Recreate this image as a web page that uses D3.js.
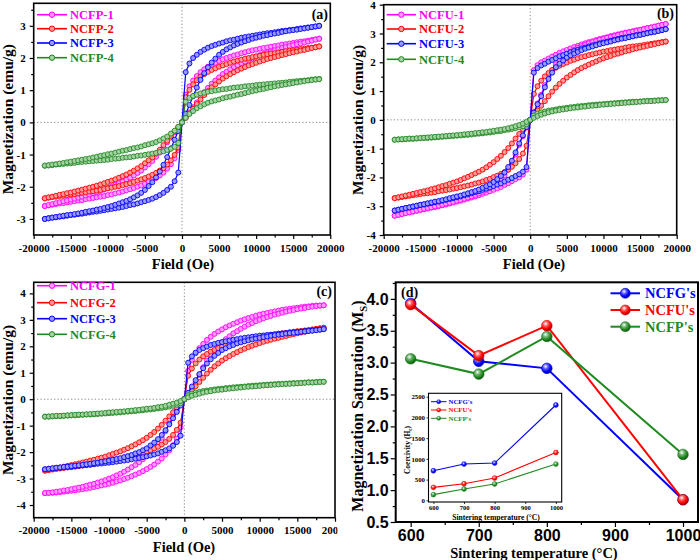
<!DOCTYPE html>
<html><head><meta charset="utf-8">
<script src="https://cdn.jsdelivr.net/npm/d3@7"></script>
<style>body{margin:0;background:#fff}svg{display:block}</style>
</head><body><svg id="c" width="700" height="560"></svg>
<script>
// ---------------- DATA ----------------
const fieldOe = [-18500,-18000,-17500,-17000,-16500,-16000,-15500,-15000,-14500,-14000,-13500,-13000,-12500,-12000,-11500,-11000,-10500,-10000,-9500,-9000,-8500,-8000,-7500,-7000,-6500,-6000,-5500,-5000,-4500,-4000,-3500,-3000,-2500,-2000,-1500,-1000,-500,0,500,1000,1500,2000,2500,3000,3500,4000,4500,5000,5500,6000,6500,7000,7500,8000,8500,9000,9500,10000,10500,11000,11500,12000,12500,13000,13500,14000,14500,15000,15500,16000,16500,17000,17500,18000,18500];

// Panel (a) NCFP loops: branch A (steep) and branch B (inner)
const ncfp1A = [-2.60,-2.58,-2.56,-2.54,-2.52,-2.51,-2.49,-2.47,-2.45,-2.43,-2.42,-2.39,-2.37,-2.35,-2.33,-2.31,-2.29,-2.26,-2.24,-2.21,-2.18,-2.15,-2.11,-2.08,-2.04,-2.00,-1.96,-1.91,-1.85,-1.79,-1.73,-1.65,-1.56,-1.44,-1.30,-1.12,-0.86,0,0.86,1.12,1.30,1.44,1.56,1.65,1.73,1.79,1.85,1.91,1.96,2.00,2.04,2.08,2.11,2.15,2.18,2.21,2.24,2.26,2.29,2.31,2.33,2.35,2.37,2.39,2.42,2.43,2.45,2.47,2.49,2.51,2.52,2.54,2.56,2.58,2.60];
const ncfp1B = [-2.60,-2.57,-2.54,-2.51,-2.48,-2.45,-2.43,-2.40,-2.37,-2.34,-2.31,-2.27,-2.24,-2.20,-2.17,-2.13,-2.09,-2.04,-1.99,-1.94,-1.89,-1.84,-1.78,-1.72,-1.65,-1.57,-1.50,-1.40,-1.30,-1.20,-1.07,-0.94,-0.78,-0.62,-0.47,-0.31,-0.16,0,0.16,0.31,0.47,0.62,0.78,0.94,1.07,1.20,1.30,1.40,1.50,1.57,1.65,1.72,1.78,1.84,1.89,1.94,1.99,2.04,2.09,2.13,2.17,2.20,2.24,2.27,2.31,2.34,2.37,2.40,2.43,2.45,2.48,2.51,2.54,2.57,2.60];
const ncfp2A = [-2.36,-2.34,-2.32,-2.31,-2.29,-2.28,-2.26,-2.24,-2.23,-2.21,-2.19,-2.17,-2.15,-2.14,-2.12,-2.10,-2.07,-2.05,-2.03,-2.00,-1.98,-1.95,-1.92,-1.89,-1.85,-1.81,-1.77,-1.73,-1.68,-1.63,-1.57,-1.50,-1.42,-1.31,-1.18,-1.01,-0.78,0,0.78,1.01,1.18,1.31,1.42,1.50,1.57,1.63,1.68,1.73,1.77,1.81,1.85,1.89,1.92,1.95,1.98,2.00,2.03,2.05,2.07,2.10,2.12,2.14,2.15,2.17,2.19,2.21,2.23,2.24,2.26,2.28,2.29,2.31,2.32,2.34,2.36];
const ncfp2B = [-2.36,-2.33,-2.31,-2.28,-2.25,-2.23,-2.20,-2.18,-2.15,-2.12,-2.09,-2.06,-2.03,-2.00,-1.97,-1.93,-1.89,-1.85,-1.81,-1.77,-1.72,-1.67,-1.62,-1.56,-1.50,-1.43,-1.36,-1.27,-1.18,-1.09,-0.97,-0.85,-0.71,-0.57,-0.42,-0.28,-0.14,0,0.14,0.28,0.42,0.57,0.71,0.85,0.97,1.09,1.18,1.27,1.36,1.43,1.50,1.56,1.62,1.67,1.72,1.77,1.81,1.85,1.89,1.93,1.97,2.00,2.03,2.06,2.09,2.12,2.15,2.18,2.20,2.23,2.25,2.28,2.31,2.33,2.36];
const ncfp3A = [-3.00,-2.98,-2.96,-2.95,-2.93,-2.92,-2.90,-2.88,-2.87,-2.85,-2.84,-2.82,-2.80,-2.78,-2.77,-2.75,-2.73,-2.71,-2.69,-2.67,-2.65,-2.63,-2.60,-2.57,-2.55,-2.52,-2.48,-2.45,-2.41,-2.37,-2.32,-2.26,-2.19,-2.10,-2.00,-1.83,-1.56,0,1.56,1.83,2.00,2.10,2.19,2.26,2.32,2.37,2.41,2.45,2.48,2.52,2.55,2.57,2.60,2.63,2.65,2.67,2.69,2.71,2.73,2.75,2.77,2.78,2.80,2.82,2.84,2.85,2.87,2.88,2.90,2.92,2.93,2.95,2.96,2.98,3.00];
const ncfp3B = [-3.00,-2.98,-2.96,-2.94,-2.92,-2.90,-2.88,-2.87,-2.85,-2.83,-2.81,-2.78,-2.76,-2.74,-2.71,-2.69,-2.66,-2.63,-2.60,-2.56,-2.52,-2.48,-2.44,-2.39,-2.33,-2.27,-2.19,-2.10,-1.98,-1.86,-1.71,-1.53,-1.32,-1.08,-0.81,-0.54,-0.27,0,0.27,0.54,0.81,1.08,1.32,1.53,1.71,1.86,1.98,2.10,2.19,2.27,2.33,2.39,2.44,2.48,2.52,2.56,2.60,2.63,2.66,2.69,2.71,2.74,2.76,2.78,2.81,2.83,2.85,2.87,2.88,2.90,2.92,2.94,2.96,2.98,3.00];
const ncfp4A = [-1.35,-1.34,-1.33,-1.31,-1.30,-1.29,-1.28,-1.27,-1.26,-1.24,-1.23,-1.22,-1.21,-1.20,-1.19,-1.18,-1.17,-1.16,-1.14,-1.13,-1.12,-1.10,-1.09,-1.08,-1.06,-1.04,-1.03,-1.01,-0.99,-0.97,-0.95,-0.92,-0.90,-0.86,-0.82,-0.76,-0.64,0,0.64,0.76,0.82,0.86,0.90,0.92,0.95,0.97,0.99,1.01,1.03,1.04,1.06,1.08,1.09,1.10,1.12,1.13,1.14,1.16,1.17,1.18,1.19,1.20,1.21,1.22,1.23,1.24,1.26,1.27,1.28,1.29,1.30,1.31,1.33,1.34,1.35];
const ncfp4B = [-1.34,-1.33,-1.31,-1.30,-1.28,-1.26,-1.24,-1.22,-1.20,-1.18,-1.16,-1.14,-1.12,-1.09,-1.07,-1.04,-1.02,-0.99,-0.97,-0.94,-0.91,-0.88,-0.86,-0.83,-0.80,-0.78,-0.75,-0.71,-0.68,-0.65,-0.61,-0.56,-0.50,-0.44,-0.35,-0.26,-0.14,0,0.14,0.26,0.35,0.44,0.50,0.56,0.61,0.65,0.68,0.71,0.75,0.78,0.80,0.83,0.86,0.88,0.91,0.94,0.97,0.99,1.02,1.04,1.07,1.09,1.12,1.14,1.16,1.18,1.20,1.22,1.24,1.26,1.28,1.30,1.31,1.33,1.34];

// Panel (b) NCFU loops
const ncfu1A = [-3.33,-3.30,-3.27,-3.24,-3.21,-3.19,-3.16,-3.13,-3.11,-3.08,-3.05,-3.03,-3.00,-2.97,-2.94,-2.91,-2.87,-2.84,-2.81,-2.77,-2.73,-2.70,-2.66,-2.62,-2.57,-2.53,-2.48,-2.43,-2.38,-2.33,-2.26,-2.20,-2.13,-2.06,-2.00,-1.90,-1.73,0,1.73,1.90,2.00,2.06,2.13,2.20,2.26,2.33,2.38,2.43,2.48,2.53,2.57,2.62,2.66,2.70,2.73,2.77,2.81,2.84,2.87,2.91,2.94,2.97,3.00,3.03,3.05,3.08,3.11,3.13,3.16,3.19,3.21,3.24,3.27,3.30,3.33];
const ncfu1B = [-3.33,-3.30,-3.27,-3.24,-3.21,-3.18,-3.15,-3.12,-3.09,-3.06,-3.04,-3.01,-2.98,-2.95,-2.91,-2.88,-2.85,-2.81,-2.78,-2.74,-2.70,-2.66,-2.61,-2.56,-2.50,-2.43,-2.36,-2.28,-2.18,-2.06,-1.93,-1.73,-1.50,-1.20,-0.87,-0.57,-0.27,0,0.27,0.57,0.87,1.20,1.50,1.73,1.93,2.06,2.18,2.28,2.36,2.43,2.50,2.56,2.61,2.66,2.70,2.74,2.78,2.81,2.85,2.88,2.91,2.95,2.98,3.01,3.04,3.06,3.09,3.12,3.15,3.18,3.21,3.24,3.27,3.30,3.33];
const ncfu2A = [-2.72,-2.70,-2.68,-2.66,-2.64,-2.62,-2.60,-2.58,-2.56,-2.55,-2.53,-2.51,-2.48,-2.46,-2.44,-2.42,-2.39,-2.37,-2.34,-2.31,-2.28,-2.25,-2.21,-2.18,-2.14,-2.09,-2.05,-1.99,-1.94,-1.88,-1.81,-1.73,-1.63,-1.51,-1.36,-1.17,-0.90,0,0.90,1.17,1.36,1.51,1.63,1.73,1.81,1.88,1.94,1.99,2.05,2.09,2.14,2.18,2.21,2.25,2.28,2.31,2.34,2.37,2.39,2.42,2.44,2.46,2.48,2.51,2.53,2.55,2.56,2.58,2.60,2.62,2.64,2.66,2.68,2.70,2.72];
const ncfu2B = [-2.72,-2.69,-2.66,-2.63,-2.60,-2.57,-2.54,-2.51,-2.48,-2.45,-2.41,-2.38,-2.34,-2.30,-2.27,-2.22,-2.18,-2.14,-2.09,-2.03,-1.98,-1.92,-1.86,-1.80,-1.73,-1.65,-1.56,-1.47,-1.36,-1.25,-1.12,-0.98,-0.82,-0.65,-0.49,-0.33,-0.16,0,0.16,0.33,0.49,0.65,0.82,0.98,1.12,1.25,1.36,1.47,1.56,1.65,1.73,1.80,1.86,1.92,1.98,2.03,2.09,2.14,2.18,2.22,2.27,2.30,2.34,2.38,2.41,2.45,2.48,2.51,2.54,2.57,2.60,2.63,2.66,2.69,2.72];
const ncfu3A = [-3.15,-3.12,-3.09,-3.06,-3.04,-3.01,-2.99,-2.96,-2.94,-2.91,-2.89,-2.86,-2.84,-2.81,-2.78,-2.75,-2.72,-2.69,-2.66,-2.62,-2.59,-2.55,-2.51,-2.48,-2.43,-2.39,-2.35,-2.30,-2.25,-2.21,-2.14,-2.08,-2.02,-1.95,-1.89,-1.80,-1.64,0,1.64,1.80,1.89,1.95,2.02,2.08,2.14,2.21,2.25,2.30,2.35,2.39,2.43,2.48,2.51,2.55,2.59,2.62,2.66,2.69,2.72,2.75,2.78,2.81,2.84,2.86,2.89,2.91,2.94,2.96,2.99,3.01,3.04,3.06,3.09,3.12,3.15];
const ncfu3B = [-3.15,-3.12,-3.09,-3.06,-3.04,-3.01,-2.98,-2.95,-2.93,-2.90,-2.87,-2.84,-2.82,-2.79,-2.76,-2.72,-2.69,-2.66,-2.63,-2.59,-2.55,-2.51,-2.47,-2.42,-2.36,-2.30,-2.24,-2.16,-2.06,-1.95,-1.83,-1.64,-1.42,-1.13,-0.82,-0.54,-0.25,0,0.25,0.54,0.82,1.13,1.42,1.64,1.83,1.95,2.06,2.16,2.24,2.30,2.36,2.42,2.47,2.51,2.55,2.59,2.63,2.66,2.69,2.72,2.76,2.79,2.82,2.84,2.87,2.90,2.93,2.95,2.98,3.01,3.04,3.06,3.09,3.12,3.15];
const ncfu4A = [-0.69,-0.68,-0.68,-0.67,-0.66,-0.66,-0.65,-0.64,-0.63,-0.63,-0.62,-0.61,-0.60,-0.59,-0.58,-0.57,-0.56,-0.55,-0.54,-0.53,-0.52,-0.51,-0.49,-0.48,-0.47,-0.45,-0.44,-0.42,-0.40,-0.39,-0.36,-0.34,-0.32,-0.29,-0.26,-0.22,-0.15,0,0.15,0.22,0.26,0.29,0.32,0.34,0.36,0.39,0.40,0.42,0.44,0.45,0.47,0.48,0.49,0.51,0.52,0.53,0.54,0.55,0.56,0.57,0.58,0.59,0.60,0.61,0.62,0.63,0.63,0.64,0.65,0.66,0.66,0.67,0.68,0.68,0.69];
const ncfu4B = [-0.69,-0.68,-0.67,-0.66,-0.65,-0.65,-0.64,-0.63,-0.62,-0.61,-0.60,-0.59,-0.58,-0.57,-0.56,-0.55,-0.54,-0.53,-0.52,-0.50,-0.49,-0.48,-0.46,-0.45,-0.43,-0.42,-0.40,-0.38,-0.36,-0.34,-0.32,-0.29,-0.26,-0.22,-0.18,-0.13,-0.07,0,0.07,0.13,0.18,0.22,0.26,0.29,0.32,0.34,0.36,0.38,0.40,0.42,0.43,0.45,0.46,0.48,0.49,0.50,0.52,0.53,0.54,0.55,0.56,0.57,0.58,0.59,0.60,0.61,0.62,0.63,0.64,0.65,0.65,0.66,0.67,0.68,0.69];

// Panel (c) NCFG loops
const ncfg1A = [-3.55,-3.54,-3.54,-3.53,-3.51,-3.50,-3.48,-3.46,-3.44,-3.42,-3.40,-3.38,-3.35,-3.32,-3.29,-3.26,-3.23,-3.20,-3.16,-3.11,-3.07,-3.02,-2.97,-2.91,-2.85,-2.79,-2.72,-2.64,-2.56,-2.47,-2.36,-2.24,-2.09,-1.93,-1.74,-1.49,-1.07,0,1.07,1.49,1.74,1.93,2.09,2.24,2.36,2.47,2.56,2.64,2.72,2.79,2.85,2.91,2.97,3.02,3.07,3.11,3.16,3.20,3.23,3.26,3.29,3.32,3.35,3.38,3.40,3.42,3.44,3.46,3.48,3.50,3.51,3.53,3.54,3.54,3.55];
const ncfg1B = [-3.55,-3.54,-3.52,-3.50,-3.48,-3.45,-3.43,-3.40,-3.37,-3.34,-3.31,-3.27,-3.23,-3.20,-3.15,-3.11,-3.06,-3.00,-2.95,-2.88,-2.82,-2.74,-2.66,-2.57,-2.49,-2.38,-2.27,-2.15,-2.01,-1.85,-1.67,-1.46,-1.21,-0.92,-0.64,-0.39,-0.18,0,0.18,0.39,0.64,0.92,1.21,1.46,1.67,1.85,2.01,2.15,2.27,2.38,2.49,2.57,2.66,2.74,2.82,2.88,2.95,3.00,3.06,3.11,3.15,3.20,3.23,3.27,3.31,3.34,3.37,3.40,3.43,3.45,3.48,3.50,3.52,3.54,3.55];
const ncfg2A = [-2.70,-2.68,-2.66,-2.64,-2.62,-2.60,-2.58,-2.57,-2.55,-2.53,-2.51,-2.49,-2.47,-2.44,-2.42,-2.40,-2.37,-2.35,-2.32,-2.29,-2.26,-2.23,-2.20,-2.16,-2.12,-2.08,-2.03,-1.98,-1.93,-1.86,-1.80,-1.71,-1.62,-1.50,-1.35,-1.16,-0.89,0,0.89,1.16,1.35,1.50,1.62,1.71,1.80,1.86,1.93,1.98,2.03,2.08,2.12,2.16,2.20,2.23,2.26,2.29,2.32,2.35,2.37,2.40,2.42,2.44,2.47,2.49,2.51,2.53,2.55,2.57,2.58,2.60,2.62,2.64,2.66,2.68,2.70];
const ncfg2B = [-2.70,-2.67,-2.64,-2.61,-2.58,-2.55,-2.52,-2.49,-2.46,-2.43,-2.39,-2.36,-2.32,-2.29,-2.25,-2.21,-2.17,-2.12,-2.07,-2.02,-1.97,-1.91,-1.85,-1.78,-1.71,-1.63,-1.55,-1.46,-1.35,-1.24,-1.11,-0.97,-0.81,-0.65,-0.49,-0.32,-0.16,0,0.16,0.32,0.49,0.65,0.81,0.97,1.11,1.24,1.35,1.46,1.55,1.63,1.71,1.78,1.85,1.91,1.97,2.02,2.07,2.12,2.17,2.21,2.25,2.29,2.32,2.36,2.39,2.43,2.46,2.49,2.52,2.55,2.58,2.61,2.64,2.67,2.70];
const ncfg3A = [-2.65,-2.63,-2.62,-2.60,-2.59,-2.58,-2.56,-2.55,-2.53,-2.52,-2.50,-2.49,-2.48,-2.46,-2.44,-2.43,-2.41,-2.40,-2.38,-2.36,-2.34,-2.32,-2.30,-2.27,-2.25,-2.22,-2.19,-2.16,-2.13,-2.09,-2.05,-1.99,-1.93,-1.86,-1.76,-1.62,-1.38,0,1.38,1.62,1.76,1.86,1.93,1.99,2.05,2.09,2.13,2.16,2.19,2.22,2.25,2.27,2.30,2.32,2.34,2.36,2.38,2.40,2.41,2.43,2.44,2.46,2.48,2.49,2.50,2.52,2.53,2.55,2.56,2.58,2.59,2.60,2.62,2.63,2.65];
const ncfg3B = [-2.65,-2.63,-2.61,-2.59,-2.58,-2.56,-2.55,-2.53,-2.51,-2.50,-2.48,-2.46,-2.44,-2.42,-2.40,-2.37,-2.35,-2.32,-2.29,-2.26,-2.23,-2.19,-2.15,-2.11,-2.05,-2.00,-1.93,-1.86,-1.75,-1.64,-1.51,-1.35,-1.17,-0.95,-0.72,-0.48,-0.24,0,0.24,0.48,0.72,0.95,1.17,1.35,1.51,1.64,1.75,1.86,1.93,2.00,2.05,2.11,2.15,2.19,2.23,2.26,2.29,2.32,2.35,2.37,2.40,2.42,2.44,2.46,2.48,2.50,2.51,2.53,2.55,2.56,2.58,2.59,2.61,2.63,2.65];
const ncfg4A = [-0.66,-0.66,-0.65,-0.64,-0.64,-0.63,-0.62,-0.61,-0.61,-0.60,-0.59,-0.58,-0.58,-0.57,-0.56,-0.55,-0.54,-0.53,-0.52,-0.51,-0.50,-0.48,-0.47,-0.46,-0.45,-0.43,-0.42,-0.40,-0.39,-0.37,-0.35,-0.33,-0.31,-0.28,-0.25,-0.21,-0.15,0,0.15,0.21,0.25,0.28,0.31,0.33,0.35,0.37,0.39,0.40,0.42,0.43,0.45,0.46,0.47,0.48,0.50,0.51,0.52,0.53,0.54,0.55,0.56,0.57,0.58,0.58,0.59,0.60,0.61,0.61,0.62,0.63,0.64,0.64,0.65,0.66,0.66];
const ncfg4B = [-0.66,-0.65,-0.64,-0.63,-0.63,-0.62,-0.61,-0.60,-0.59,-0.58,-0.58,-0.57,-0.56,-0.55,-0.54,-0.53,-0.52,-0.50,-0.49,-0.48,-0.47,-0.46,-0.44,-0.43,-0.41,-0.40,-0.38,-0.36,-0.35,-0.33,-0.30,-0.28,-0.25,-0.21,-0.17,-0.13,-0.07,0,0.07,0.13,0.17,0.21,0.25,0.28,0.30,0.33,0.35,0.36,0.38,0.40,0.41,0.43,0.44,0.46,0.47,0.48,0.49,0.50,0.52,0.53,0.54,0.55,0.56,0.57,0.58,0.58,0.59,0.60,0.61,0.62,0.63,0.63,0.64,0.65,0.66];

// Panel (d): saturation magnetization and coercivity vs sintering temperature
const sinterTemps = [600, 700, 800, 1000];
const msNCFG = [3.93, 3.02, 2.91, 0.85];
const msNCFU = [3.91, 3.11, 3.58, 0.85];
const msNCFP = [3.06, 2.82, 3.41, 1.56];
const hcNCFG = [714, 875, 899, 2300];
const hcNCFU = [313, 401, 538, 1154];
const hcNCFP = [137, 274, 394, 875];

const fieldTicks = [-20000,-15000,-10000,-5000,0,5000,10000,15000,20000];
const fieldMinor = [-17500,-12500,-7500,-2500,2500,7500,12500,17500];
const tempTicks = [600,700,800,900,1000];
const tempMinor = [650,750,850,950];
const msTicks = [0.5,1.0,1.5,2.0,2.5,3.0,3.5,4.0];
const msMinor = [0.75,1.25,1.75,2.25,2.75,3.25,3.75,4.25];
const hcTicks = [0,500,1000,1500,2000,2500];
const hcLabels = ["NCFG's","NCFU's","NCFP's"];

// ---------------- DRAWING ----------------
const SERIF = "'Liberation Serif','Times New Roman',Times,serif";
const SANS = "'Liberation Sans',Arial,Helvetica,sans-serif";
const MAG = '#ff00ff', RED = '#ff0000', BLUE = '#0000ff', GREEN = '#1f8a1f';
const svg = d3.select('#c');
const defs = svg.append('defs');

function sphereGrad(id, c) {
  const rg = defs.append('radialGradient').attr('id', id).attr('cx', '38%').attr('cy', '32%').attr('r', '68%');
  rg.append('stop').attr('offset', '0%').attr('stop-color', '#ffffff');
  rg.append('stop').attr('offset', '35%').attr('stop-color', d3.interpolateRgb(c, '#fff')(0.35));
  rg.append('stop').attr('offset', '70%').attr('stop-color', c);
  rg.append('stop').attr('offset', '100%').attr('stop-color', d3.color(c).darker(1.3));
}
sphereGrad('sB', BLUE); sphereGrad('sR', RED); sphereGrad('sG', GREEN);

function styleAxis(sel, font, size) {
  sel.select('.domain').remove();
  sel.selectAll('line').attr('stroke', '#000').attr('stroke-width', 1.2);
  sel.selectAll('text').attr('font-family', font).attr('font-weight', 'bold')
     .attr('font-size', size).attr('fill', '#000');
}

function vLabel(parent, cx, cy, size, main, sub, tail) {
  const t = parent.append('text').attr('transform', `translate(${cx},${cy}) rotate(-90)`)
    .attr('text-anchor', 'middle').attr('dy', '0.35em')
    .attr('font-family', SERIF).attr('font-weight', 'bold').attr('font-size', size).attr('fill', '#000');
  t.append('tspan').text(main);
  if (sub) {
    t.append('tspan').attr('font-size', size * 0.68).attr('dy', size * 0.28).text(sub);
    t.append('tspan').attr('dy', -size * 0.28).text(tail);
  }
  return t;
}

function hystPanel(p) {
  const g = svg.append('g');
  if (p.clipRight) {
    defs.append('clipPath').attr('id', 'clipc').append('rect')
      .attr('x', 0).attr('y', p.y0 - 30).attr('width', p.clipRight).attr('height', 320);
    g.attr('clip-path', 'url(#clipc)');
  }
  const x = d3.scaleLinear().domain([-20000, 20000]).range([p.x0, p.x1]);
  const y = d3.scaleLinear().domain(p.yDom).range([p.y1, p.y0]);

  g.append('line').attr('x1', x(0)).attr('x2', x(0)).attr('y1', p.y0).attr('y2', p.y1)
    .attr('stroke', '#777').attr('stroke-width', 0.9).attr('stroke-dasharray', '1.2,2.2');
  g.append('line').attr('x1', p.x0).attr('x2', p.x1).attr('y1', y(0)).attr('y2', y(0))
    .attr('stroke', '#777').attr('stroke-width', 0.9).attr('stroke-dasharray', '1.2,2.2');

  const line = d3.line().x((d, i) => x(fieldOe[i])).y(d => y(d));
  p.series.forEach(s => {
    const sg = g.append('g');
    const light = d3.interpolateRgb(s.color, '#fff')(0.6);
    [s.A, s.B].forEach(arr => {
      sg.append('path').attr('d', line(arr)).attr('fill', 'none')
        .attr('stroke', s.color).attr('stroke-width', 1.2);
    });
    [s.A, s.B].forEach(arr => {
      sg.selectAll(null).data(arr).enter().append('circle')
        .attr('cx', (d, i) => x(fieldOe[i])).attr('cy', d => y(d)).attr('r', 2.5)
        .attr('fill', light).attr('stroke', s.color).attr('stroke-width', 0.9);
    });
  });

  // frame
  g.append('rect').attr('x', p.x0).attr('y', p.y0).attr('width', p.x1 - p.x0).attr('height', p.y1 - p.y0)
    .attr('fill', 'none').attr('stroke', '#000').attr('stroke-width', 1.6);

  // axes
  g.append('g').attr('transform', `translate(0,${p.y1})`)
    .call(d3.axisBottom(x).tickValues(fieldTicks).tickSize(4).tickSizeOuter(0).tickPadding(5).tickFormat(d => String(d)))
    .call(s => styleAxis(s, SERIF, 11));
  g.append('g').attr('transform', `translate(0,${p.y1})`)
    .call(d3.axisBottom(x).tickValues(fieldMinor).tickSize(2.5).tickSizeOuter(0).tickFormat(''))
    .call(s => styleAxis(s, SERIF, 11));
  g.append('g').attr('transform', `translate(${p.x0},0)`)
    .call(d3.axisLeft(y).tickValues(p.yTicks).tickSize(4).tickSizeOuter(0).tickPadding(4).tickFormat(d => String(d)))
    .call(s => styleAxis(s, SERIF, 11));
  g.append('g').attr('transform', `translate(${p.x0},0)`)
    .call(d3.axisLeft(y).tickValues(p.yMinor).tickSize(2.5).tickSizeOuter(0).tickFormat(''))
    .call(s => styleAxis(s, SERIF, 11));

  // axis titles
  vLabel(g, p.yLabX, (p.y0 + p.y1) / 2, 15.5, 'Magnetization (emu/g)');
  g.append('text').attr('x', p.xLabX).attr('y', p.xLabY).attr('text-anchor', 'middle')
    .attr('font-family', SERIF).attr('font-weight', 'bold').attr('font-size', 14.5).text('Field (Oe)');

  // legend
  p.series.forEach((s, i) => {
    const ly = p.legY[i];
    const light = d3.interpolateRgb(s.color, '#fff')(0.6);
    g.append('line').attr('x1', p.legX1).attr('x2', p.legX2).attr('y1', ly).attr('y2', ly)
      .attr('stroke', s.color).attr('stroke-width', 1.6);
    g.append('circle').attr('cx', (p.legX1 + p.legX2) / 2).attr('cy', ly).attr('r', 2.7)
      .attr('fill', light).attr('stroke', s.color).attr('stroke-width', 1);
    g.append('text').attr('x', p.legX2 + 3).attr('y', ly).attr('dy', '0.35em')
      .attr('font-family', SERIF).attr('font-weight', 'bold').attr('font-size', 12.5)
      .attr('fill', s.color).text(s.name);
  });
  g.append('text').attr('x', p.tagX).attr('y', p.tagY).attr('text-anchor', 'end')
    .attr('font-family', SERIF).attr('font-weight', 'bold').attr('font-size', 14).text(p.tag);
}

hystPanel({
  tag: '(a)', tagX: 328, tagY: 19,
  x0: 33.7, x1: 330.3, y0: 3.3, y1: 235, yDom: [-3.5, 3.7],
  yTicks: [-3,-2,-1,0,1,2,3], yMinor: [-2.5,-1.5,-0.5,0.5,1.5,2.5,3.5],
  yLabX: 8, xLabX: 183, xLabY: 268.5,
  legX1: 37, legX2: 67, legY: [14.7, 28.7, 43, 57.7],
  series: [
    {name: 'NCFP-1', color: MAG, A: ncfp1A, B: ncfp1B},
    {name: 'NCFP-2', color: RED, A: ncfp2A, B: ncfp2B},
    {name: 'NCFP-3', color: BLUE, A: ncfp3A, B: ncfp3B},
    {name: 'NCFP-4', color: GREEN, A: ncfp4A, B: ncfp4B}
  ]
});
hystPanel({
  tag: '(b)', tagX: 674, tagY: 18,
  x0: 383.7, x1: 676.7, y0: 4.7, y1: 235, yDom: [-4, 4],
  yTicks: [-4,-3,-2,-1,0,1,2,3,4], yMinor: [-3.5,-2.5,-1.5,-0.5,0.5,1.5,2.5,3.5],
  yLabX: 358, xLabX: 534, xLabY: 268.5,
  legX1: 386.7, legX2: 416, legY: [14.7, 29, 43.7, 59.3],
  series: [
    {name: 'NCFU-1', color: MAG, A: ncfu1A, B: ncfu1B},
    {name: 'NCFU-2', color: RED, A: ncfu2A, B: ncfu2B},
    {name: 'NCFU-3', color: BLUE, A: ncfu3A, B: ncfu3B},
    {name: 'NCFU-4', color: GREEN, A: ncfu4A, B: ncfu4B}
  ]
});
hystPanel({
  tag: '(c)', tagX: 332, tagY: 296, clipRight: 337.5,
  x0: 33.7, x1: 335, y0: 282.3, y1: 517.7, yDom: [-4.48, 4.42],
  yTicks: [-4,-3,-2,-1,0,1,2,3,4], yMinor: [-3.5,-2.5,-1.5,-0.5,0.5,1.5,2.5,3.5],
  yLabX: 8, xLabX: 184, xLabY: 551.5,
  legX1: 37, legX2: 67, legY: [285.7, 302.7, 318.7, 334.3],
  series: [
    {name: 'NCFG-1', color: MAG, A: ncfg1A, B: ncfg1B},
    {name: 'NCFG-2', color: RED, A: ncfg2A, B: ncfg2B},
    {name: 'NCFG-3', color: BLUE, A: ncfg3A, B: ncfg3B},
    {name: 'NCFG-4', color: GREEN, A: ncfg4A, B: ncfg4B}
  ]
});

// ---------- Panel (d) ----------
(function () {
  const X0 = 395.7, X1 = 698, Y0 = 282.3, Y1 = 522;
  const g = svg.append('g');
  const x = d3.scaleLinear().domain([578, 1022]).range([X0, X1]);
  const y = d3.scaleLinear().domain([0.5, 4.26]).range([Y1, Y0]);
  const sets = [
    {name: hcLabels[0], color: BLUE, grad: 'sB', ms: msNCFG, hc: hcNCFG},
    {name: hcLabels[1], color: RED, grad: 'sR', ms: msNCFU, hc: hcNCFU},
    {name: hcLabels[2], color: GREEN, grad: 'sG', ms: msNCFP, hc: hcNCFP}
  ];
  const line = d3.line().x((d, i) => x(sinterTemps[i])).y(d => y(d));
  sets.forEach(s => {
    g.append('path').attr('d', line(s.ms)).attr('fill', 'none').attr('stroke', s.color).attr('stroke-width', 2);
    g.selectAll(null).data(s.ms).enter().append('circle')
      .attr('cx', (d, i) => x(sinterTemps[i])).attr('cy', d => y(d)).attr('r', 5.3)
      .attr('fill', `url(#${s.grad})`).attr('stroke', d3.color(s.color).darker(0.6)).attr('stroke-width', 0.6);
  });
  g.append('rect').attr('x', X0).attr('y', Y0).attr('width', X1 - X0).attr('height', Y1 - Y0)
    .attr('fill', 'none').attr('stroke', '#000').attr('stroke-width', 2);
  g.append('g').attr('transform', `translate(0,${Y1})`)
    .call(d3.axisBottom(x).tickValues(tempTicks).tickSize(5).tickSizeOuter(0).tickPadding(2.6).tickFormat(d => String(d)))
    .call(s => styleAxis(s, SANS, 16));
  g.append('g').attr('transform', `translate(0,${Y1})`)
    .call(d3.axisBottom(x).tickValues(tempMinor).tickSize(3).tickSizeOuter(0).tickFormat(''))
    .call(s => styleAxis(s, SANS, 16));
  g.append('g').attr('transform', `translate(${X0},0)`)
    .call(d3.axisLeft(y).tickValues(msTicks).tickSize(5).tickSizeOuter(0).tickPadding(2).tickFormat(d3.format('.1f')))
    .call(s => styleAxis(s, SANS, 16));
  g.append('g').attr('transform', `translate(${X0},0)`)
    .call(d3.axisLeft(y).tickValues(msMinor).tickSize(3).tickSizeOuter(0).tickFormat(''))
    .call(s => styleAxis(s, SANS, 16));
  vLabel(g, 357, 406, 16, 'Magnetization Saturation (M', 'S', ')');
  g.append('text').attr('x', 534).attr('y', 557.5).attr('text-anchor', 'middle')
    .attr('font-family', SERIF).attr('font-weight', 'bold').attr('font-size', 14.5).text('Sintering temperature (°C)');
  g.append('text').attr('x', 401).attr('y', 296.5)
    .attr('font-family', SERIF).attr('font-weight', 'bold').attr('font-size', 14).text('(d)');
  // legend
  const legY = [293.3, 310, 326.7];
  sets.forEach((s, i) => {
    g.append('line').attr('x1', 610.5).attr('x2', 640).attr('y1', legY[i]).attr('y2', legY[i])
      .attr('stroke', s.color).attr('stroke-width', 2);
    g.append('circle').attr('cx', 625.3).attr('cy', legY[i]).attr('r', 5)
      .attr('fill', `url(#${s.grad})`).attr('stroke', d3.color(s.color).darker(0.6)).attr('stroke-width', 0.6);
    g.append('text').attr('x', 645).attr('y', legY[i]).attr('dy', '0.35em')
      .attr('font-family', SERIF).attr('font-weight', 'bold').attr('font-size', 14.5)
      .attr('fill', s.color).text(s.name);
  });

  // inset: coercivity
  const IX0 = 428.5, IX1 = 561.7, IY0 = 393.3, IY1 = 502;
  const ig = g.append('g');
  ig.append('rect').attr('x', IX0).attr('y', IY0).attr('width', IX1 - IX0).attr('height', IY1 - IY0)
    .attr('fill', '#fff').attr('stroke', '#000').attr('stroke-width', 1.1);
  const ix = d3.scaleLinear().domain([584, 1019]).range([IX0, IX1]);
  const iy = d3.scaleLinear().domain([-40, 2582]).range([IY1, IY0]);
  const iline = d3.line().x((d, i) => ix(sinterTemps[i])).y(d => iy(d));
  sets.forEach(s => {
    ig.append('path').attr('d', iline(s.hc)).attr('fill', 'none').attr('stroke', s.color).attr('stroke-width', 1.1);
    ig.selectAll(null).data(s.hc).enter().append('circle')
      .attr('cx', (d, i) => ix(sinterTemps[i])).attr('cy', d => iy(d)).attr('r', 2.4)
      .attr('fill', `url(#${s.grad})`).attr('stroke', s.color).attr('stroke-width', 0.6);
  });
  ig.append('g').attr('transform', `translate(0,${IY1})`)
    .call(d3.axisBottom(ix).tickValues(tempTicks).tickSize(2).tickSizeOuter(0).tickPadding(1).tickFormat(d => String(d)))
    .call(s => { styleAxis(s, SERIF, 6.5); s.selectAll('line').attr('stroke-width', 0.8); });
  ig.append('g').attr('transform', `translate(${IX0},0)`)
    .call(d3.axisLeft(iy).tickValues(hcTicks).tickSize(2).tickSizeOuter(0).tickPadding(1.5).tickFormat(d => String(d)))
    .call(s => { styleAxis(s, SERIF, 6.8); s.selectAll('line').attr('stroke-width', 0.8); });
  vLabel(ig, 407, 450, 7.5, 'Coercivity (H', 'c', ')');
  ig.append('text').attr('x', 496).attr('y', 519.5).attr('text-anchor', 'middle')
    .attr('font-family', SERIF).attr('font-weight', 'bold').attr('font-size', 7.6).text('Sintering temperature (°C)');
  const ilegY = [401.7, 410, 418.3];
  sets.forEach((s, i) => {
    ig.append('line').attr('x1', 431).attr('x2', 446.5).attr('y1', ilegY[i]).attr('y2', ilegY[i])
      .attr('stroke', s.color).attr('stroke-width', 1);
    ig.append('circle').attr('cx', 438.7).attr('cy', ilegY[i]).attr('r', 2)
      .attr('fill', `url(#${s.grad})`).attr('stroke', s.color).attr('stroke-width', 0.5);
    ig.append('text').attr('x', 448.5).attr('y', ilegY[i]).attr('dy', '0.35em')
      .attr('font-family', SERIF).attr('font-weight', 'bold').attr('font-size', 6.8)
      .attr('fill', s.color).text(s.name);
  });
})();
</script>
</body></html>
